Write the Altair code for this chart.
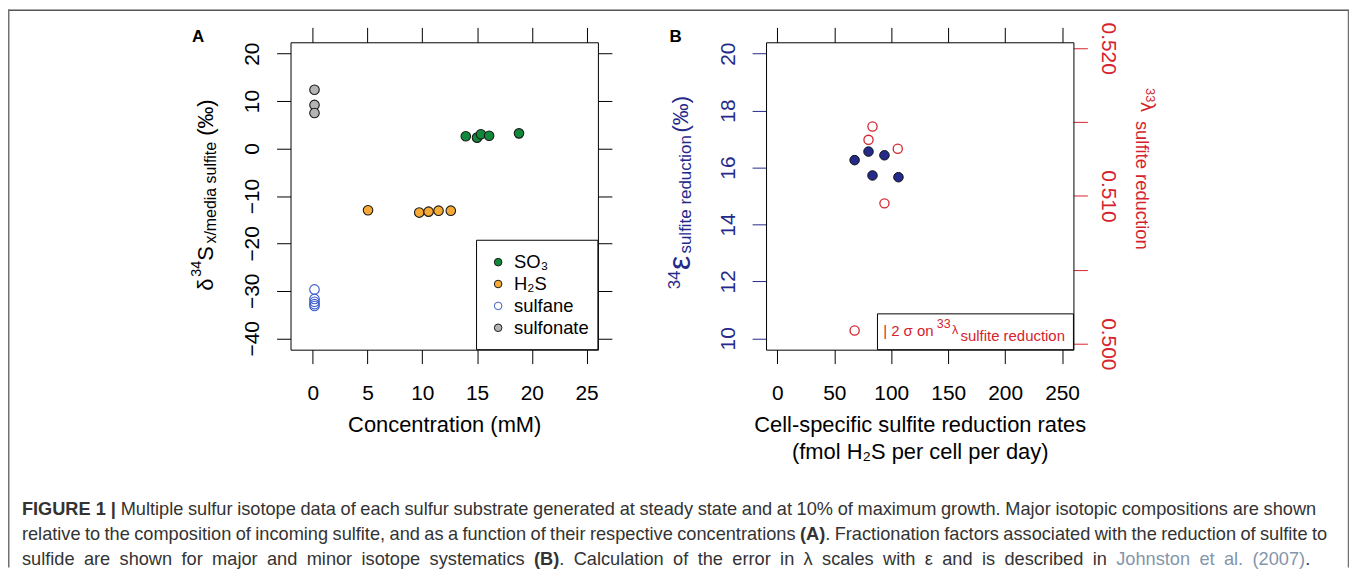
import altair as alt
import pandas as pd

FONT = "Liberation Sans"

# ---------------- data: panel A ----------------
cats = ["SO3", "H2S", "sulfane", "sulfonate"]
cat_labels = ["SO₃", "H₂S", "sulfane", "sulfonate"]
so3_conc = [13.97, 15.0, 15.35, 16.1, 18.83]
so3_d34 = [2.6, 2.3, 3.0, 2.7, 3.2]
h2s_conc = [5.04, 9.72, 10.57, 11.48, 12.6]
h2s_d34 = [-13.0, -13.5, -13.3, -13.1, -13.1]
sulfane_conc = [0.15, 0.15, 0.15, 0.15, 0.15]
sulfane_d34 = [-29.7, -31.7, -32.3, -32.8, -33.2]
sulfonate_conc = [0.15, 0.15, 0.15]
sulfonate_d34 = [12.4, 9.2, 7.5]

# ---------------- data: panel B ----------------
rate_eps = [67.8, 80.0, 83.5, 94.0, 106.3]
eps34 = [16.26, 16.56, 15.72, 16.43, 15.66]
rate_lam = [83.5, 80.0, 105.7, 94.0, 67.8]
lam33 = [0.5147, 0.5138, 0.5132, 0.5095, 0.5009]

# ---------------- ticks ----------------
a_xticks = [0, 5, 10, 15, 20, 25]
a_yticks = [-40, -30, -20, -10, 0, 10, 20]
b_xticks = [0, 50, 100, 150, 200, 250]
b_yticks = [10, 12, 14, 16, 18, 20]
b_lticks = [0.500, 0.505, 0.510, 0.515, 0.520]
b_llabels = ["0.500", "0.510", "0.520"]

# ---------------- styles ----------------
fills = ["#11893a", "#f6a935", "transparent", "#b4b4b4"]
strokes = ["#1a1a1a", "#1a1a1a", "#3a5ccc", "#1a1a1a"]
NAVY = "#242a8a"
RED = "#d5232e"
TXT = "#333333"
LINK = "#8396ab"

# ---------------- layout (pixels in the view) ----------------
W, H = 1348, 561
AX_RANGE = [284, 593]
BX_RANGE = [762, 1071]
Y_RANGE = [342, 33]
BOTTOM_OFF = Y_RANGE[0] - H
TOP_OFF = -Y_RANGE[1]
TICK = 14

a_x_scale = alt.Scale(domain=[-2.04, 26.04], range=AX_RANGE, nice=False, zero=False)
a_y_scale = alt.Scale(domain=[-42.4, 22.4], range=Y_RANGE, nice=False, zero=False)
b_x_scale = alt.Scale(domain=[-10, 260], range=BX_RANGE, nice=False, zero=False)
b_e_scale = alt.Scale(domain=[9.6, 20.4], range=Y_RANGE, nice=False, zero=False)
b_l_scale = alt.Scale(domain=[0.4996, 0.5204], range=Y_RANGE, nice=False, zero=False)

dfA = pd.DataFrame({
    "conc": so3_conc + h2s_conc + sulfane_conc + sulfonate_conc,
    "d34": so3_d34 + h2s_d34 + sulfane_d34 + sulfonate_d34,
    "cat": ["SO3"] * len(so3_conc) + ["H2S"] * len(h2s_conc)
    + ["sulfane"] * len(sulfane_conc) + ["sulfonate"] * len(sulfonate_conc),
})
dfB_eps = pd.DataFrame({"rate": rate_eps, "eps": eps34})
dfB_lam = pd.DataFrame({"rate": rate_lam, "lam": lam33})
dfLeg = pd.DataFrame({"cat": cats, "label": cat_labels})

fill_enc = alt.Fill("cat:N", scale=alt.Scale(domain=cats, range=fills), legend=None)
stroke_enc = alt.Stroke("cat:N", scale=alt.Scale(domain=cats, range=strokes), legend=None)

common_axis = dict(grid=False, domainColor="black", domainWidth=1, tickWidth=1,
                   labelFont=FONT, labelFontSize=21, titleFont=FONT)

# ---------------- panel A ----------------
a_points = alt.Chart(dfA).mark_circle(size=92, opacity=1, strokeWidth=1.1).encode(
    x=alt.X("conc:Q", scale=a_x_scale,
            axis=alt.Axis(orient="bottom", offset=BOTTOM_OFF, values=a_xticks, tickSize=TICK,
                          tickColor="black", labelColor="black", labelPadding=19,
                          title="Concentration (mM)", titleFontSize=22, titleFontWeight="normal",
                          titleColor="black", titleBaseline="top", titleY=65, **common_axis)),
    y=alt.Y("d34:Q", scale=a_y_scale,
            axis=alt.Axis(orient="left", offset=-AX_RANGE[0], values=a_yticks, tickSize=TICK,
                          tickColor="black", labelColor="black", labelAngle=270,
                          labelAlign="center", labelBaseline="alphabetic", labelPadding=18,
                          title=None, **common_axis)),
    fill=fill_enc,
    stroke=stroke_enc,
)

a_frame = alt.Chart(dfA).mark_point(opacity=0).encode(
    x=alt.X("conc:Q", scale=a_x_scale,
            axis=alt.Axis(orient="top", offset=TOP_OFF, values=a_xticks, tickSize=15,
                          tickColor="black", labels=False, title=None, **common_axis)),
    y=alt.Y("d34:Q", scale=a_y_scale,
            axis=alt.Axis(orient="right", offset=AX_RANGE[1] - W, values=a_yticks, tickSize=TICK,
                          tickColor="black", labels=False, title=None, **common_axis)),
)

one = pd.DataFrame({"k": [0]})


def txt(s, x, y, size, color="black", angle=0, align="left", baseline="alphabetic",
        weight="normal"):
    return alt.Chart(one).mark_text(
        font=FONT, fontSize=size, color=color, angle=angle, align=align,
        baseline=baseline, fontWeight=weight,
    ).encode(x=alt.value(x), y=alt.value(y), text=alt.value(s))


def box(x1, x2, y1, y2):
    return alt.Chart(one).mark_rect(fill="white", stroke="black", strokeWidth=1).encode(
        x=alt.value(x1), x2=alt.value(x2), y=alt.value(y1), y2=alt.value(y2))


a_legend_box = box(471, AX_RANGE[1], 232, Y_RANGE[0])
leg_y = alt.Y("cat:N", scale=alt.Scale(domain=cats, range=[254, 320], padding=0), axis=None)
a_legend_sym = alt.Chart(dfLeg).mark_circle(size=58, opacity=1, strokeWidth=1).encode(
    x=alt.value(492.7), y=leg_y, fill=fill_enc, stroke=stroke_enc)
a_legend_txt = alt.Chart(dfLeg).mark_text(
    font=FONT, fontSize=18.5, align="left", baseline="middle", color="black").encode(
    x=alt.value(508.7), y=leg_y, text="label:N")

a_ytitle = [
    txt("δ", 206.3, 282.7, 22, angle=270),
    txt("34", 193.7, 268.7, 14.5, angle=270),
    txt("S", 206.3, 252.7, 22, angle=270),
    txt("x/media sulfite", 209.3, 235.3, 16, angle=270),
    txt("(‰)", 206.3, 127, 22, angle=270),
]

# ---------------- panel B ----------------
b_eps = alt.Chart(dfB_eps).mark_circle(size=92, opacity=1, fill=NAVY, stroke="#111111",
                                       strokeWidth=1).encode(
    x=alt.X("rate:Q", scale=b_x_scale,
            axis=alt.Axis(orient="bottom", offset=BOTTOM_OFF, values=b_xticks, tickSize=TICK,
                          tickColor="black", labelColor="black", labelPadding=19,
                          title=["Cell-specific sulfite reduction rates",
                                 "(fmol H₂S per cell per day)"],
                          titleFontSize=22, titleFontWeight="normal", titleColor="black",
                          titleBaseline="top", titleY=65, titleLineHeight=27, **common_axis)),
    y=alt.Y("eps:Q", scale=b_e_scale,
            axis=alt.Axis(orient="left", offset=-BX_RANGE[0], values=b_yticks, tickSize=TICK,
                          tickColor=NAVY, labelColor=NAVY, labelAngle=270,
                          labelAlign="center", labelBaseline="alphabetic", labelPadding=18,
                          title=None, **common_axis)),
)

b_lam = alt.Chart(dfB_lam).mark_point(size=85, opacity=1, filled=False, color=RED,
                                      strokeWidth=1.3, shape="circle").encode(
    x=alt.X("rate:Q", scale=b_x_scale,
            axis=alt.Axis(orient="top", offset=TOP_OFF, values=b_xticks, tickSize=15,
                          tickColor="black", labels=False, title=None, **common_axis)),
    y=alt.Y("lam:Q", scale=b_l_scale,
            axis=alt.Axis(orient="right", offset=BX_RANGE[1] - W, values=b_lticks,
                          tickSize=TICK, tickColor=RED, labelColor=RED, labelAngle=90,
                          labelAlign="center", labelBaseline="alphabetic", labelPadding=14,
                          format=".3f",
                          labelExpr="indexof(" + str(b_llabels) + ", datum.label) >= 0 ? datum.label : ''",
                          title=None, **common_axis)),
)

b_legend_box = box(874, BX_RANGE[1], 306, Y_RANGE[0])
b_legend_txt = [
    txt("| 2 σ on", 879.7, 328, 15, color=RED),
    txt("33", 933.7, 320.5, 12.5, color=RED),
    txt("λ", 949, 326.5, 12.5, color=RED),
    txt("sulfite reduction", 957.5, 333, 15, color=RED),
]

b_ytitle = [
    txt("34", 676, 281.3, 17, color=NAVY, angle=270),
    txt("ε", 685.3, 262, 32, color=NAVY, angle=270),
    txt("sulfite reduction", 687, 245.3, 17, color=NAVY, angle=270),
    txt("(‰)", 684, 123.7, 22, color=NAVY, angle=270),
]
b_rtitle = [
    txt("33", 1144, 79, 13, color=RED, angle=90),
    txt("λ", 1138.7, 93, 20, color=RED, angle=90),
    txt("sulfite reduction", 1133.7, 112, 18.5, color=RED, angle=90),
]

labels_AB = [
    txt("A", 185, 32.7, 17, weight="bold"),
    txt("B", 665, 32.7, 17, weight="bold"),
]

# ---------------- outer frame ----------------
FRAME = "#707070"
frame = [
    alt.Chart(one).mark_rule(color="#555555", strokeWidth=1.5).encode(
        x=alt.value(0), x2=alt.value(1347.5), y=alt.value(0.75)),
    alt.Chart(one).mark_rule(color=FRAME, strokeWidth=1.5).encode(
        x=alt.value(0.75), y=alt.value(0), y2=alt.value(H)),
    alt.Chart(one).mark_rule(color=FRAME, strokeWidth=1.5).encode(
        x=alt.value(1347.5), y=alt.value(0), y2=alt.value(H)),
]

# ---------------- caption ----------------
CAP = 18.3
ADV = {" ": 278, ".": 278, ",": 278, "(": 333, ")": 333, "%": 889, "|": 280,
       "C": 722, "J": 500, "B": 722, "A": 722, "M": 833, "F": 611, "I": 278, "G": 778,
       "U": 722, "R": 722, "E": 667,
       "a": 556, "b": 556, "c": 500, "d": 556, "e": 556, "f": 278, "g": 556, "h": 556,
       "i": 222, "j": 222, "k": 500, "l": 222, "m": 833, "n": 556, "o": 556, "p": 556,
       "q": 556, "r": 333, "s": 500, "t": 278, "u": 556, "v": 500, "w": 722, "x": 500,
       "y": 500, "z": 500, "λ": 500, "ε": 446}
BOLD_ADV = {"(": 333, ")": 333, "A": 722, "B": 722, "F": 611, "I": 278, "G": 778,
            "U": 722, "R": 722, "E": 667, "1": 556, " ": 278, "|": 280}


def tw(s, weight="normal", size=CAP):
    table = BOLD_ADV if weight == "bold" else ADV
    return sum(table.get(ch, 556) for ch in s) * size / 1000.0


def justified(tokens, x0, x1, y):
    """tokens: (text, weight, color, space_before); spread over [x0, x1]."""
    n_sp = sum(1 for t in tokens[1:] if t[3])
    free = x1 - x0 - sum(tw(t[0], t[1]) for t in tokens)
    gap = free / n_sp
    marks, x = [], x0
    for i, (s, wgt, col, sp) in enumerate(tokens):
        if i > 0 and sp:
            x += gap
        marks.append(txt(s, x, y, CAP, color=col, weight=wgt))
        x += tw(s, wgt)
    return marks


def words(s, weight="normal", color=TXT):
    return [(w, weight, color, True) for w in s.split()]


n, b = "normal", "bold"

line1 = [("FIGURE 1 |", b, TXT, True)] + words(
    "Multiple sulfur isotope data of each sulfur substrate generated at steady state and at "
    "10% of maximum growth. Major isotopic compositions are shown")

line2 = words("relative to the composition of incoming sulfite, and as a function of their "
              "respective concentrations")
line2 += [("(A)", b, TXT, True), (".", n, TXT, False)]
line2 += words("Fractionation factors associated with the reduction of sulfite to")

line3 = words("sulfide are shown for major and minor isotope systematics")
line3 += [("(B)", b, TXT, True), (".", n, TXT, False)]
line3 += words("Calculation of the error in λ scales with ε and is described in")
line3 += words("Johnston et al. (2007)", color=LINK)
line3 += [(".", n, TXT, False)]

caption = (justified(line1, 14, 1315, 508) + justified(line2, 14, 1326, 533)
           + justified(line3, 14, 1309, 558))

layers = ([a_points, a_frame, a_legend_box, a_legend_sym, a_legend_txt] + a_ytitle
          + [b_eps, b_lam, b_legend_box] + b_legend_txt + b_ytitle + b_rtitle
          + labels_AB + frame + caption)

chart = alt.layer(*layers).resolve_scale(x="independent", y="independent").properties(
    width=W, height=H, padding=0, autosize=alt.AutoSizeParams(type="none"),
).configure_view(stroke=None)

chart.save("out.html", embed_options={"renderer": "svg", "actions": False})
